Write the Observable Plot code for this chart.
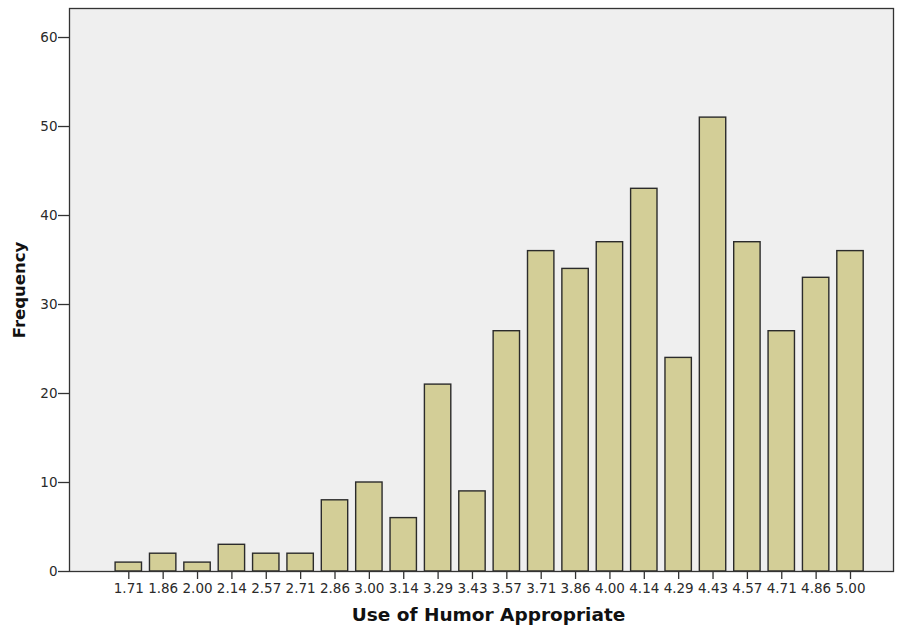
<!DOCTYPE html>
<html>
<head>
<meta charset="utf-8">
<script src="https://cdn.jsdelivr.net/npm/d3@7"></script>
<script src="https://cdn.jsdelivr.net/npm/@observablehq/plot@0.6"></script>
<style>
  body { margin: 0; background: #fff; }
  #chart svg { display: block; }
</style>
</head>
<body>
<div id="chart"></div>
<script>
const categories = ["1.71","1.86","2.00","2.14","2.57","2.71","2.86","3.00","3.14","3.29","3.43","3.57","3.71","3.86","4.00","4.14","4.29","4.43","4.57","4.71","4.86","5.00"];
const frequencies = [1,2,1,3,2,2,8,10,6,21,9,27,36,34,37,43,24,51,37,27,33,36];
const yTicks = [0,10,20,30,40,50,60];
const xLabel = "Use of Humor Appropriate";
const yLabel = "Frequency";

const data = categories.map((c, i) => ({cat: c, freq: frequencies[i]}));

const W = 899, H = 631;
const mL = 69, mR = 6, mT = 8, mB = 60;
const first = 128.3, last = 850, n = categories.length;
const step = (last - first) / (n - 1);

const chart = Plot.plot({
  width: W,
  height: H,
  marginLeft: mL,
  marginRight: mR,
  marginTop: mT,
  marginBottom: mB,
  style: {fontFamily: "DejaVu Sans, sans-serif", color: "#222", background: "#fff"},
  x: {type: "band", domain: categories, range: [first - step / 2, last + step / 2], paddingInner: 0.232, paddingOuter: 0.116, round: false, label: null},
  y: {domain: [0, 63.26], label: null},
  marks: [
    Plot.frame({fill: "#efefef", stroke: null}),
    Plot.barY(data, {x: "cat", y: "freq", fill: "#d3ce97", stroke: "#2b2b2b", strokeWidth: 1.4}),
    Plot.frame({stroke: "#333", strokeWidth: 1.3}),
    Plot.axisY({ticks: yTicks, tickSize: 11, tickPadding: 1, label: null, stroke: "#333", strokeWidth: 1.3, fontSize: 13.5, fill: "#2a2a2a"}),
    Plot.axisX({tickSize: 8, tickPadding: 4, label: null, stroke: "#333", strokeWidth: 1.3, fontSize: 13.5, fill: "#2a2a2a"}),
    Plot.text([yLabel], {frameAnchor: "left", dx: -50, rotate: -90, textAnchor: "middle", text: d => d, fontWeight: "bold", fontSize: 16.5, fill: "#111"}),
    Plot.text([xLabel], {frameAnchor: "bottom", dx: 7, dy: 49, textAnchor: "middle", text: d => d, fontWeight: "bold", fontSize: 18.5, fill: "#111"})
  ]
});
document.getElementById("chart").appendChild(chart);
</script>
</body>
</html>
